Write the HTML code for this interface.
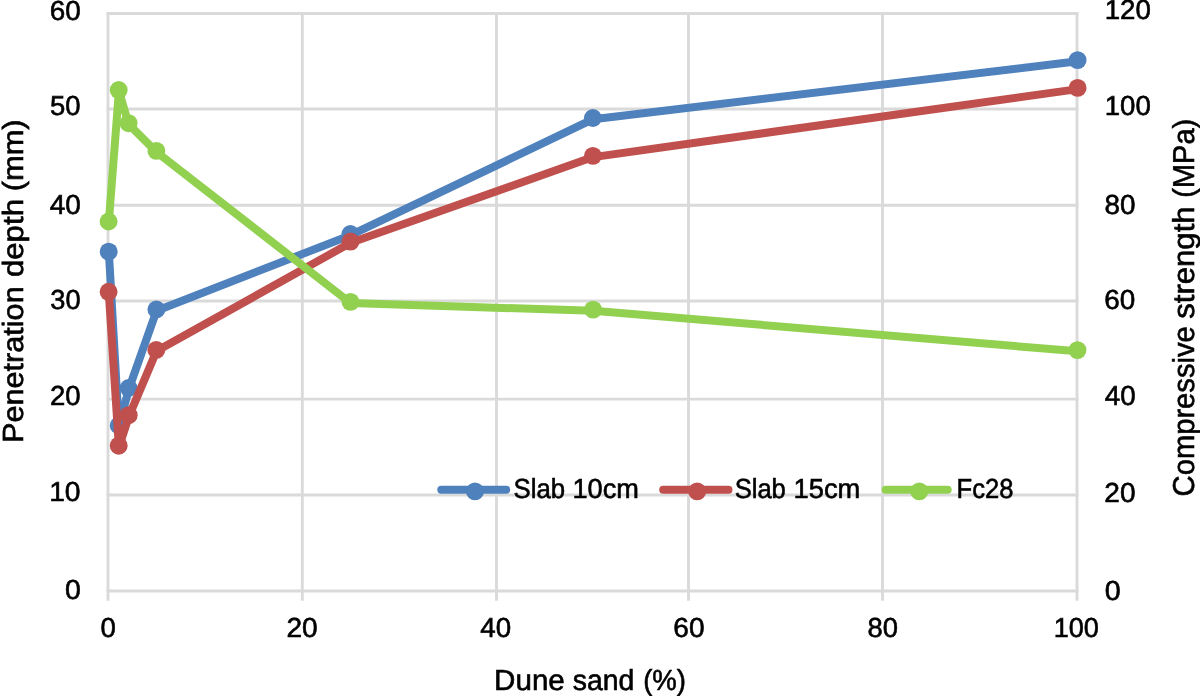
<!DOCTYPE html>
<html><head><meta charset="utf-8"><style>
html,body{margin:0;padding:0;background:#fff;overflow:hidden;width:1200px;height:696px;}
svg{display:block;will-change:transform;}
text{font-family:"Liberation Sans",sans-serif;fill:#000;text-rendering:geometricPrecision;stroke:#000;stroke-width:0.6px;}
</style></head><body>
<svg width="1200" height="696" viewBox="0 0 1200 696">
<rect width="1200" height="696" fill="#fff"/>
<line x1="106.55" y1="13.5" x2="1078.45" y2="13.5" stroke="#dadada" stroke-width="2.9"/>
<line x1="106.55" y1="109.0" x2="1078.45" y2="109.0" stroke="#dadada" stroke-width="2.9"/>
<line x1="106.55" y1="205.3" x2="1078.45" y2="205.3" stroke="#dadada" stroke-width="2.9"/>
<line x1="106.55" y1="301.0" x2="1078.45" y2="301.0" stroke="#dadada" stroke-width="2.9"/>
<line x1="106.55" y1="399.1" x2="1078.45" y2="399.1" stroke="#dadada" stroke-width="2.9"/>
<line x1="106.55" y1="495.0" x2="1078.45" y2="495.0" stroke="#dadada" stroke-width="2.9"/>
<line x1="106.55" y1="591.0" x2="1078.45" y2="591.0" stroke="#dadada" stroke-width="2.9"/>
<line x1="108" y1="12.05" x2="108" y2="600.8" stroke="#dadada" stroke-width="2.9"/>
<line x1="302.3" y1="12.05" x2="302.3" y2="600.8" stroke="#dadada" stroke-width="2.9"/>
<line x1="496.5" y1="12.05" x2="496.5" y2="600.8" stroke="#dadada" stroke-width="2.9"/>
<line x1="688.5" y1="12.05" x2="688.5" y2="600.8" stroke="#dadada" stroke-width="2.9"/>
<line x1="882.5" y1="12.05" x2="882.5" y2="600.8" stroke="#dadada" stroke-width="2.9"/>
<line x1="1077" y1="12.05" x2="1077" y2="600.8" stroke="#dadada" stroke-width="2.9"/>
<text x="49.78" y="20.00" font-size="27.45" textLength="31.00" lengthAdjust="spacingAndGlyphs">60</text>
<text x="50.00" y="115.00" font-size="27.45" textLength="30.57" lengthAdjust="spacingAndGlyphs">50</text>
<text x="49.72" y="214.00" font-size="27.45" textLength="31.14" lengthAdjust="spacingAndGlyphs">40</text>
<text x="50.26" y="309.00" font-size="27.45" textLength="30.30" lengthAdjust="spacingAndGlyphs">30</text>
<text x="49.91" y="405.00" font-size="27.45" textLength="30.66" lengthAdjust="spacingAndGlyphs">20</text>
<text x="49.15" y="501.00" font-size="27.45" textLength="31.46" lengthAdjust="spacingAndGlyphs">10</text>
<text x="64.99" y="599.00" font-size="27.45" textLength="15.82" lengthAdjust="spacingAndGlyphs">0</text>
<text x="1104.69" y="19.00" font-size="27.45" textLength="46.19" lengthAdjust="spacingAndGlyphs">120</text>
<text x="1104.70" y="115.00" font-size="27.45" textLength="46.08" lengthAdjust="spacingAndGlyphs">100</text>
<text x="1104.59" y="214.00" font-size="27.45" textLength="31.00" lengthAdjust="spacingAndGlyphs">80</text>
<text x="1104.38" y="309.00" font-size="27.45" textLength="31.00" lengthAdjust="spacingAndGlyphs">60</text>
<text x="1104.76" y="405.00" font-size="27.45" textLength="30.92" lengthAdjust="spacingAndGlyphs">40</text>
<text x="1104.39" y="502.00" font-size="27.45" textLength="31.21" lengthAdjust="spacingAndGlyphs">20</text>
<text x="1104.68" y="600.00" font-size="27.45" textLength="15.94" lengthAdjust="spacingAndGlyphs">0</text>
<text x="100.62" y="637.33" font-size="27.45" textLength="15.36" lengthAdjust="spacingAndGlyphs">0</text>
<text x="286.48" y="637.33" font-size="27.45" textLength="31.32" lengthAdjust="spacingAndGlyphs">20</text>
<text x="480.26" y="637.33" font-size="27.45" textLength="30.82" lengthAdjust="spacingAndGlyphs">40</text>
<text x="673.37" y="637.33" font-size="27.45" textLength="31.22" lengthAdjust="spacingAndGlyphs">60</text>
<text x="867.51" y="637.33" font-size="27.45" textLength="30.46" lengthAdjust="spacingAndGlyphs">80</text>
<text x="1053.64" y="637.33" font-size="27.45" textLength="45.22" lengthAdjust="spacingAndGlyphs">100</text>
<text x="494.13" y="690.00" font-size="29" textLength="70.64" lengthAdjust="spacingAndGlyphs">Dune</text>
<text x="572.81" y="690.00" font-size="29" textLength="61.62" lengthAdjust="spacingAndGlyphs">sand</text>
<text x="643.19" y="690.00" font-size="29" textLength="42.81" lengthAdjust="spacingAndGlyphs">(%)</text>
<text transform="translate(22.80,443.01) rotate(-90)" x="0" y="0" font-size="29.2" textLength="156.70" lengthAdjust="spacingAndGlyphs">Penetration</text>
<text transform="translate(22.80,277.11) rotate(-90)" x="0" y="0" font-size="29.2" textLength="78.14" lengthAdjust="spacingAndGlyphs">depth</text>
<text transform="translate(22.80,191.31) rotate(-90)" x="0" y="0" font-size="29.2" textLength="71.93" lengthAdjust="spacingAndGlyphs">(mm)</text>
<text transform="translate(1193.50,496.38) rotate(-90)" x="0" y="0" font-size="30.2" textLength="170.18" lengthAdjust="spacingAndGlyphs">Compressive</text>
<text transform="translate(1193.50,318.66) rotate(-90)" x="0" y="0" font-size="30.2" textLength="112.18" lengthAdjust="spacingAndGlyphs">strength</text>
<text transform="translate(1193.50,197.70) rotate(-90)" x="0" y="0" font-size="30.2" textLength="78.89" lengthAdjust="spacingAndGlyphs">(MPa)</text>
<polyline points="108.90,252.80 118.90,426.70 128.80,389.20 156.60,310.70 350.60,235.20 593.10,119.20 1077.80,61.30" fill="none" stroke="#4F81BD" stroke-width="8" stroke-linejoin="round" stroke-linecap="round"/><circle cx="108.70" cy="251.60" r="8.95" fill="#4F81BD"/><circle cx="118.70" cy="425.50" r="8.95" fill="#4F81BD"/><circle cx="128.60" cy="388.00" r="8.95" fill="#4F81BD"/><circle cx="156.40" cy="309.50" r="8.95" fill="#4F81BD"/><circle cx="350.40" cy="234.00" r="8.95" fill="#4F81BD"/><circle cx="592.90" cy="118.00" r="8.95" fill="#4F81BD"/><circle cx="1077.60" cy="60.10" r="8.95" fill="#4F81BD"/>
<polyline points="108.80,293.00 118.90,446.90 128.90,416.40 156.50,351.10 350.70,242.75 593.10,157.10 1077.80,89.10" fill="none" stroke="#C0504D" stroke-width="8" stroke-linejoin="round" stroke-linecap="round"/><circle cx="108.60" cy="291.80" r="8.95" fill="#C0504D"/><circle cx="118.70" cy="445.70" r="8.95" fill="#C0504D"/><circle cx="128.70" cy="415.20" r="8.95" fill="#C0504D"/><circle cx="156.30" cy="349.90" r="8.95" fill="#C0504D"/><circle cx="350.50" cy="241.55" r="8.95" fill="#C0504D"/><circle cx="592.90" cy="155.90" r="8.95" fill="#C0504D"/><circle cx="1077.60" cy="87.90" r="8.95" fill="#C0504D"/>
<polyline points="108.76,222.70 118.90,91.27 128.80,124.40 156.60,152.10 350.70,303.10 593.30,310.80 1077.70,351.30" fill="none" stroke="#92D050" stroke-width="8" stroke-linejoin="round" stroke-linecap="round"/><circle cx="108.56" cy="221.50" r="8.95" fill="#92D050"/><circle cx="118.70" cy="90.07" r="8.95" fill="#92D050"/><circle cx="128.60" cy="123.20" r="8.95" fill="#92D050"/><circle cx="156.40" cy="150.90" r="8.95" fill="#92D050"/><circle cx="350.50" cy="301.90" r="8.95" fill="#92D050"/><circle cx="593.10" cy="309.60" r="8.95" fill="#92D050"/><circle cx="1077.50" cy="350.10" r="8.95" fill="#92D050"/>
<line x1="441.3" y1="489.8" x2="506.2" y2="489.8" stroke="#4F81BD" stroke-width="8" stroke-linecap="round"/>
<circle cx="475" cy="491.4" r="8.95" fill="#4F81BD"/>
<line x1="663.2" y1="489.8" x2="728.5" y2="489.8" stroke="#C0504D" stroke-width="8" stroke-linecap="round"/>
<circle cx="697.2" cy="491.4" r="8.95" fill="#C0504D"/>
<line x1="885.7" y1="489.8" x2="947.7" y2="489.8" stroke="#92D050" stroke-width="8" stroke-linecap="round"/>
<circle cx="919.3" cy="491.4" r="8.95" fill="#92D050"/>
<text x="513.53" y="498.00" font-size="27.5" textLength="51.55" lengthAdjust="spacingAndGlyphs">Slab</text>
<text x="572.43" y="498.00" font-size="27.5" textLength="66.46" lengthAdjust="spacingAndGlyphs">10cm</text>
<text x="734.64" y="498.00" font-size="27.5" textLength="51.24" lengthAdjust="spacingAndGlyphs">Slab</text>
<text x="793.52" y="498.00" font-size="27.5" textLength="66.78" lengthAdjust="spacingAndGlyphs">15cm</text>
<text x="956.60" y="498.00" font-size="27.5" textLength="56.91" lengthAdjust="spacingAndGlyphs">Fc28</text>
</svg>
</body></html>
